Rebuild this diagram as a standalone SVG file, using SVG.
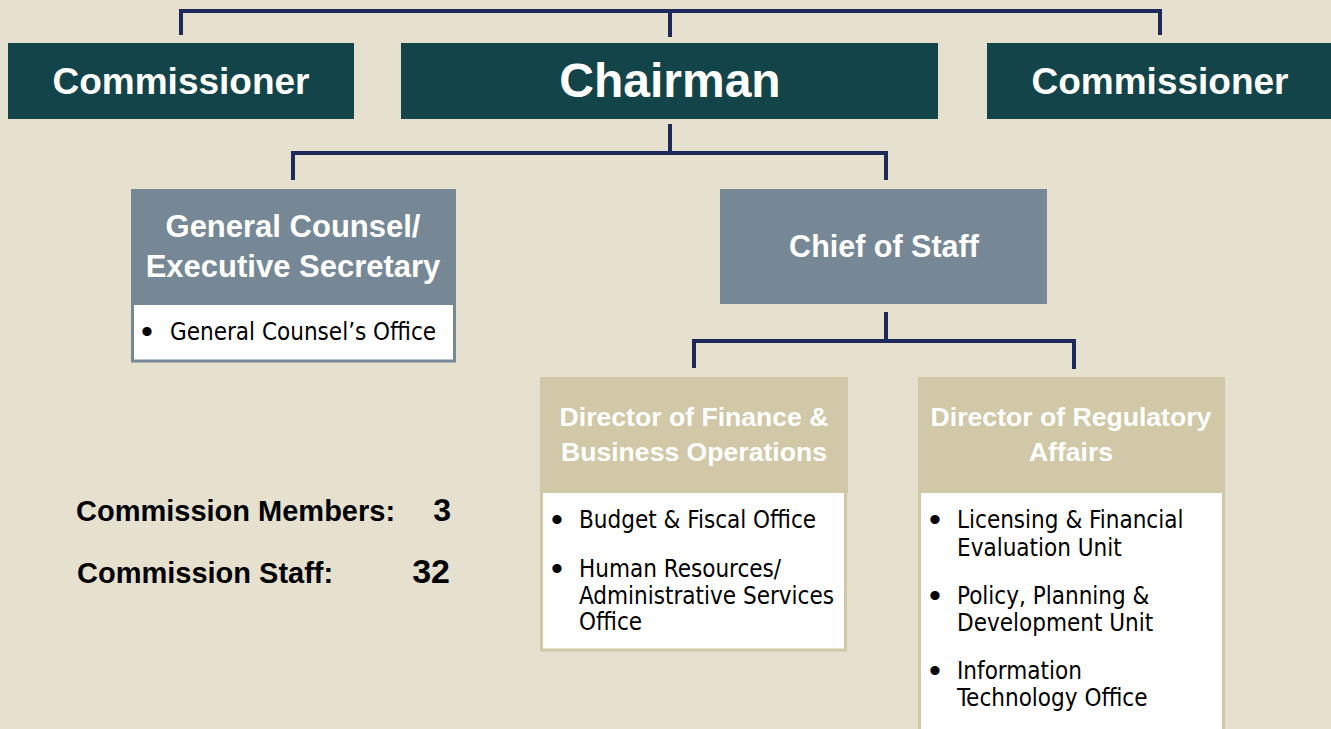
<svg xmlns="http://www.w3.org/2000/svg" width="1331" height="729" viewBox="0 0 1331 729">
<style>
.bg{fill:#E6E0CF}
.exec{fill:#134449}
.gray{fill:#768896}
.tan{fill:#D0C8A6}
.body-g{fill:#fff;stroke:#768896;stroke-width:3}
.body-t{fill:#fff;stroke:#D0C8A6;stroke-width:3}
.conn{fill:none;stroke:#1E2A5C;stroke-width:4;stroke-linecap:butt;stroke-linejoin:miter}
.h{font-family:"Liberation Sans",Arial,sans-serif;font-weight:bold;fill:#fff;text-anchor:middle}
.b{font-family:"DejaVu Sans Condensed","DejaVu Sans",sans-serif;font-stretch:condensed;font-size:24px;fill:#000}
.d{font-family:"Liberation Sans",Arial,sans-serif;font-size:34px;fill:#000;text-anchor:middle}
.s{font-family:"Liberation Sans",Arial,sans-serif;font-weight:bold;fill:#000}
</style>
<rect class="bg" x="0" y="0" width="1331" height="729"/>
<g id="connectors">
<path class="conn" d="M181,35 V11 H1160 V35 M670,11 V37"/>
<path class="conn" d="M670,124 V153 M293,180 V153 H886 V180"/>
<path class="conn" d="M886,312 V341 M694,368 V341 H1074 V369"/>
</g>
<g id="commissioner-left">
<rect class="exec" x="8" y="43" width="346" height="76"/>
<text class="h" x="181" y="94" font-size="37">Commissioner</text>
</g>
<g id="chairman">
<rect class="exec" x="401" y="43" width="537" height="76"/>
<text class="h" x="670" y="97" font-size="48">Chairman</text>
</g>
<g id="commissioner-right">
<rect class="exec" x="987" y="43" width="344" height="76"/>
<text class="h" x="1160" y="94" font-size="37">Commissioner</text>
</g>
<g id="general-counsel">
<rect class="body-g" x="132.5" y="300" width="322" height="61"/>
<rect class="gray" x="131" y="189" width="325" height="116"/>
<text class="h" x="293" y="237" font-size="31">General Counsel/</text>
<text class="h" x="293" y="277" font-size="31">Executive Secretary</text>
<text class="d" x="147" y="343">•</text>
<text class="b" x="170" y="340">General Counsel’s Office</text>
</g>
<g id="chief-of-staff">
<rect class="gray" x="720" y="189" width="327" height="115"/>
<text class="h" x="884" y="257" font-size="30.5">Chief of Staff</text>
</g>
<g id="director-finance">
<rect class="body-t" x="541.5" y="488" width="304" height="162"/>
<rect class="tan" x="540" y="377" width="308" height="116"/>
<text class="h" x="694" y="426" font-size="26.6">Director of Finance &amp;</text>
<text class="h" x="694" y="461" font-size="26.6">Business Operations</text>
<text class="d" x="557" y="531">•</text>
<text class="b" x="579" y="528">Budget &amp; Fiscal Office</text>
<text class="d" x="557" y="580">•</text>
<text class="b" x="579" y="577">Human Resources/</text>
<text class="b" x="579" y="604">Administrative Services</text>
<text class="b" x="579" y="630">Office</text>
</g>
<g id="director-regulatory">
<rect class="body-t" x="919.5" y="488" width="304" height="250"/>
<rect class="tan" x="918" y="377" width="307" height="116"/>
<text class="h" x="1071" y="426" font-size="26.6">Director of Regulatory</text>
<text class="h" x="1071" y="461" font-size="26.6">Affairs</text>
<text class="d" x="935" y="531">•</text>
<text class="b" x="957" y="528">Licensing &amp; Financial</text>
<text class="b" x="957" y="556">Evaluation Unit</text>
<text class="d" x="935" y="607">•</text>
<text class="b" x="957" y="604">Policy, Planning &amp;</text>
<text class="b" x="957" y="631">Development Unit</text>
<text class="d" x="935" y="682">•</text>
<text class="b" x="957" y="679">Information</text>
<text class="b" x="957" y="706">Technology Office</text>
</g>
<g id="stats">
<text class="s" x="76" y="521" font-size="29">Commission Members:</text>
<text class="s" x="451" y="521" font-size="32" text-anchor="end">3</text>
<text class="s" x="77" y="583" font-size="29">Commission Staff:</text>
<text class="s" x="450" y="583" font-size="34" text-anchor="end">32</text>
</g>
</svg>
